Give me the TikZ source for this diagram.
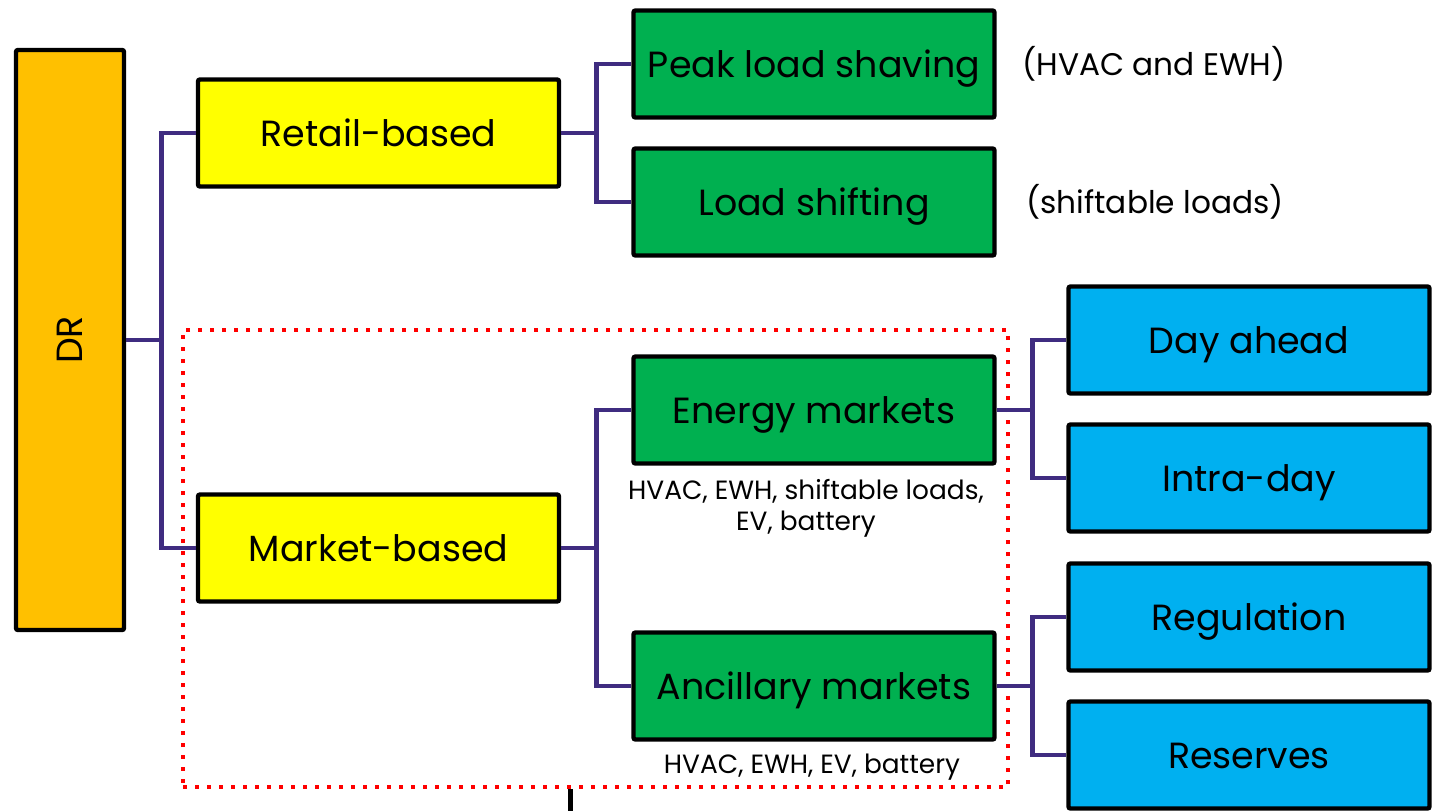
\documentclass[tikz,border=0pt]{standalone}
\usepackage{fontspec}
\setmainfont{Poppins}
\usepackage{tikz}
\usetikzlibrary{positioning}
\definecolor{drorange}{HTML}{FFC000}
\definecolor{lvlyellow}{HTML}{FFFF00}
\definecolor{progreen}{HTML}{00B050}
\definecolor{mktblue}{HTML}{00B0F0}
\definecolor{linkpurple}{HTML}{3F2C80}

\begin{document}
\begin{tikzpicture}[x=0.5pt, y=-0.5pt,
  blk/.style={draw, line width=2.2pt, rounded corners=1pt, minimum width=180.5pt,
              minimum height=53.5pt, inner sep=0pt, text height=13.5pt, text depth=0pt,
              font=\fontsize{18.2}{21}\selectfont},
  note/.style={font=\fontsize{15.6}{18}\selectfont, align=center, inner sep=0pt,
               text height=11.8pt, text depth=0pt},
  tag/.style={font=\fontsize{13.2}{15.5}\selectfont, align=center, inner sep=0pt},
  link/.style={draw=linkpurple, line width=2.3pt},
  frame/.style={draw=red, line width=2.2pt, dash pattern=on 2.2pt off 3.8pt}]
\useasboundingbox (0,0) rectangle (1437,810);
% frame round the market part
\node[frame, minimum width=412.5pt, minimum height=228.5pt] (mktframe) at (595.5,558.5) {};
% levels
\node[blk, fill=drorange, minimum width=54pt, minimum height=290pt, text height=, text depth=]
  (dr) at (70,340) {\rotatebox{90}{DR}};
\node[blk, fill=lvlyellow] (retail) at (378.5,133) {Retail-based};
\node[blk, fill=lvlyellow] (market) at (378.5,548) {Market-based};
\node[blk, fill=progreen] (peak) at (814,64) {Peak load shaving};
\node[blk, fill=progreen] (shift) at (814,202) {Load shifting};
\node[blk, fill=progreen] (energy) at (814,410) {Energy markets};
\node[blk, fill=progreen] (ancil) at (814,686) {Ancillary markets};
\node[blk, fill=mktblue] (dayah) at (1249,340) {Day ahead};
\node[blk, fill=mktblue] (intra) at (1249,478) {Intra-day};
\node[blk, fill=mktblue] (regul) at (1249,617) {Regulation};
\node[blk, fill=mktblue] (resv) at (1249,755) {Reserves};
% loads
\node[note] (peaknote) at (1154,64) {(HVAC and EWH)};
\node[note] (shiftnote) at (1155,202) {(shiftable loads)};
\node[tag, below=6.5pt of energy, xshift=-4pt] (energynote) {HVAC, EWH, shiftable loads,\\ EV, battery};
\node[tag, below=6pt of ancil, xshift=-1pt] (ancilnote) {HVAC, EWH, EV, battery};
% links
\draw[link] (dr.east) -- ++(35,0) coordinate (j1) |- (retail.west);
\draw[link] (j1) |- (market.west);
\draw[link] (retail.east) -- ++(35,0) coordinate (j2) |- (peak.west);
\draw[link] (j2) |- (shift.west);
\draw[link] (market.east) -- ++(35,0) coordinate (j3) |- (energy.west);
\draw[link] (j3) |- (ancil.west);
\draw[link] (energy.east) -- ++(36,0) coordinate (j4) |- (dayah.west);
\draw[link] (j4) |- (intra.west);
\draw[link] (ancil.east) -- ++(36,0) coordinate (j5) |- (regul.west);
\draw[link] (j5) |- (resv.west);
\coordinate (cut) at (570,812);
\draw[line width=2.5pt] (cut|-mktframe.south) -- (cut);
\end{tikzpicture}
\end{document}
